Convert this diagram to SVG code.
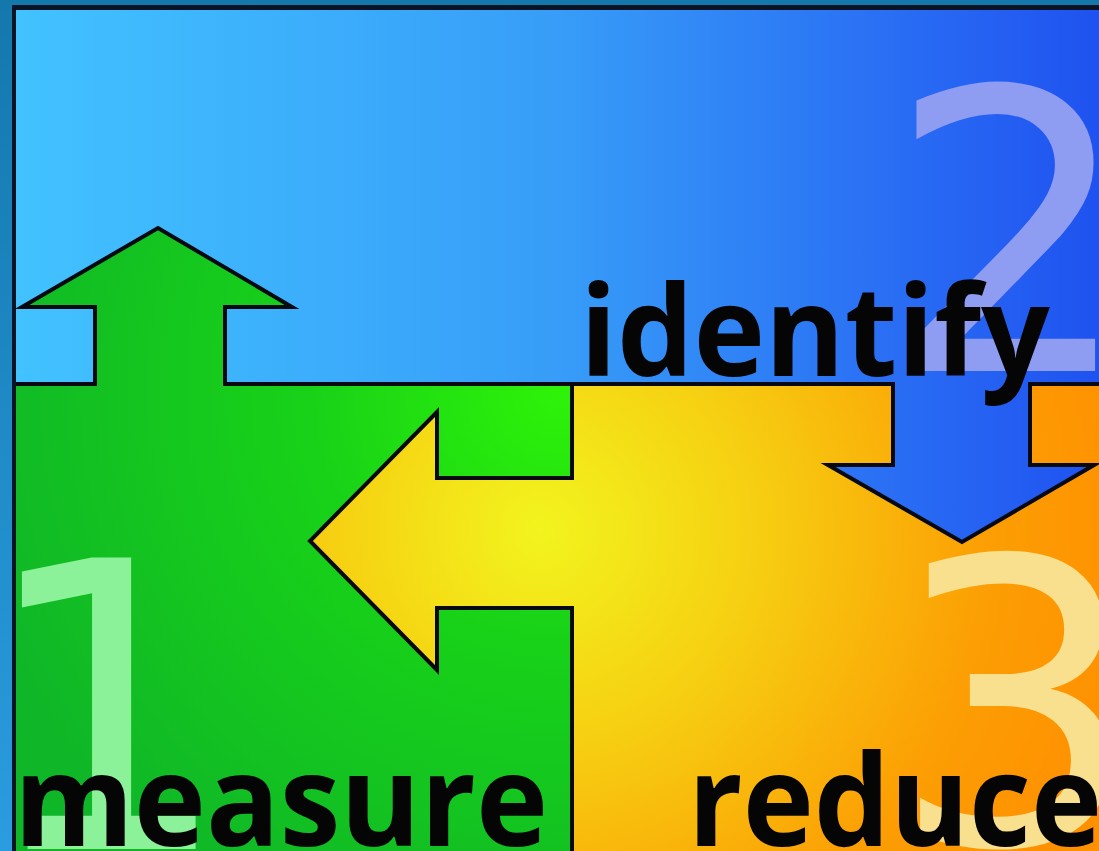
<svg xmlns="http://www.w3.org/2000/svg" width="1099" height="851" viewBox="0 0 1099 851">
  <defs>
    <linearGradient id="frameGrad" x1="0" y1="0" x2="0" y2="851" gradientUnits="userSpaceOnUse">
      <stop offset="0" stop-color="#1478ad"/>
      <stop offset="1" stop-color="#2a9ce0"/>
    </linearGradient>
    <linearGradient id="blueGrad" x1="16" y1="200" x2="1099" y2="200" gradientUnits="userSpaceOnUse">
      <stop offset="0" stop-color="#42c2ff"/>
      <stop offset="0.5" stop-color="#379df8"/>
      <stop offset="0.8" stop-color="#2a6ff4"/>
      <stop offset="1" stop-color="#1f52f0"/>
    </linearGradient>
    <radialGradient id="greenGrad" cx="560" cy="390" r="620" gradientUnits="userSpaceOnUse">
      <stop offset="0" stop-color="#2ef308"/>
      <stop offset="0.4" stop-color="#18d218"/>
      <stop offset="1" stop-color="#0fb628"/>
    </radialGradient>
    <radialGradient id="yellowGrad" cx="540" cy="530" r="600" gradientUnits="userSpaceOnUse">
      <stop offset="0" stop-color="#f2f41e"/>
      <stop offset="0.35" stop-color="#f6d012"/>
      <stop offset="0.75" stop-color="#fc9e04"/>
      <stop offset="1" stop-color="#ff9000"/>
    </radialGradient>
    <style>
      .edge { fill: none; stroke: #060a10; stroke-width: 4; stroke-linejoin: miter; }
      .word { font-family: "Open Sans", "DejaVu Sans", sans-serif; font-weight: bold; fill: #050505; }
      .digit { font-family: "DejaVu Sans", "Liberation Sans", sans-serif; font-weight: normal; }
    </style>
  </defs>

  <g id="frame">
    <rect x="0" y="0" width="1099" height="851" fill="url(#frameGrad)"/>
    <rect x="12" y="5" width="1100" height="860" fill="#0a1424"/>
  </g>

  <g id="regions">
    <path id="blue-region" fill="url(#blueGrad)" d="M16,10 H1110 V384 H1030 V465 H1094 L962,542 L828,465 H893 V384 H225 V307 H292 L158,228 L22,307 H95 V384 H16 Z"/>
    <path id="green-region" fill="url(#greenGrad)" d="M16,384 H95 V307 H22 L158,228 L292,307 H225 V384 H572 V478 H437 V412 L310,541 L437,670 V608 H572 V860 H16 Z"/>
    <path id="yellow-region" fill="url(#yellowGrad)" d="M572,384 H893 V465 H828 L962,542 L1094,465 H1030 V384 H1110 V860 H572 V608 H437 V670 L310,541 L437,412 V478 H572 Z"/>
  </g>

  <g id="digits">
    <text class="digit" x="-22" y="849" font-size="400" fill="#8cf29a">1</text>
    <text class="digit" x="886" y="371" font-size="390" fill="#8e9cf2">2</text>
    <text class="digit" x="890" y="844" font-size="395" fill="#f9e08e">3</text>
  </g>

  <g id="connectors">
    <path class="edge" d="M16,384 H95 V307 H22 L158,228 L292,307 H225 V384 H893 V465 H828 L962,542 L1094,465 H1030 V384 H1110"/>
    <path class="edge" d="M572,384 V478 H437 V412 L310,541 L437,670 V608 H572 V860"/>
  </g>

  <g id="node-measure">
    <text class="word" x="14" y="846" font-size="128" textLength="534" lengthAdjust="spacingAndGlyphs">measure</text>
  </g>
  <g id="node-identify">
    <text class="word" x="580" y="376" font-size="126" textLength="470" lengthAdjust="spacingAndGlyphs">identify</text>
  </g>
  <g id="node-reduce">
    <text class="word" x="688" y="846" font-size="128" textLength="414" lengthAdjust="spacingAndGlyphs">reduce</text>
  </g>
</svg>
